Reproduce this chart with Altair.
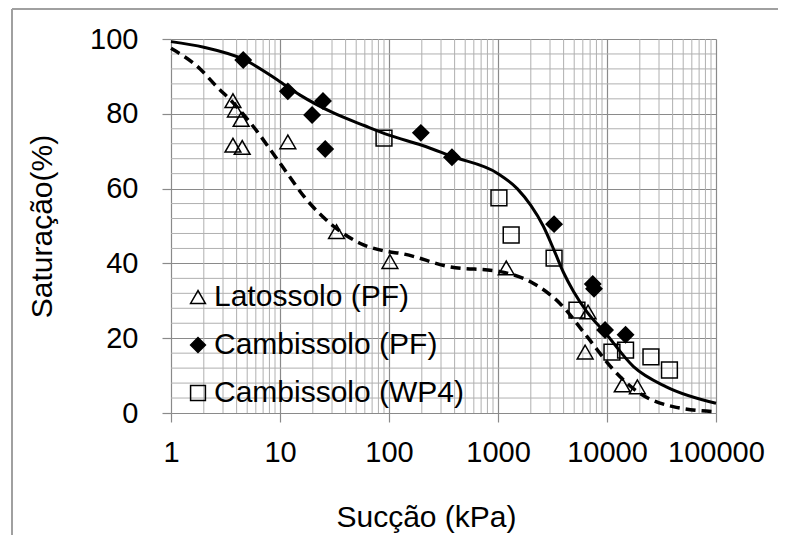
import altair as alt
import pandas as pd

# ---- data ----
lato_x = [3.7, 3.9, 4.4, 3.7, 4.5, 11.8, 33, 102, 1190, 6300, 6700, 13800, 19000]
lato_y = [83.5, 81, 78.5, 71.6, 71, 72.5, 48.5, 40.5, 38.8, 16.3, 27, 7.5, 7]

camb_pf_x = [4.6, 11.8, 19.7, 24.8, 26, 196, 378, 3270, 7400, 7600, 9600, 14800]
camb_pf_y = [94.4, 86, 79.7, 83.4, 70.6, 74.9, 68.4, 50.5, 34.5, 33.2, 22.2, 20.9]

camb_wp_x = [90, 1020, 1320, 3270, 5300, 11100, 14800, 25300, 37400]
camb_wp_y = [73.5, 57.5, 47.6, 41.4, 27.5, 16.3, 16.8, 15, 11.5]

solid_x = [1, 2, 4.6, 10, 15.3, 30.6, 60, 100, 200, 378, 1000, 1500, 2000, 2600, 3270,
           4000, 4930, 6570, 9580, 17500, 35000, 100000]
solid_y = [99.3, 97.8, 94.6, 88.6, 85, 80.3, 76.8, 74.3, 71.6, 68.6, 64, 60, 55.5, 50,
           43.5, 37.5, 32.5, 27, 21.5, 12.4, 7, 2.6]

dash_x = [1, 1.85, 2.62, 3.7, 5.69, 10, 17.6, 30.8, 54, 100, 126, 362, 1045, 2100,
          3700, 6570, 11500, 19900, 40300, 100000]
dash_y = [97.5, 92, 87.3, 83, 76.6, 66.8, 57, 50, 45.4, 43.1, 42.7, 39.1, 37.8, 34.7,
          29.3, 20.4, 11.5, 5.3, 1.7, 0.35]

series = ["Latossolo (PF)", "Cambissolo (PF)", "Cambissolo (WP4)"]
x_major = [1, 10, 100, 1000, 10000, 100000]
x_minor = [m * d for d in [1, 10, 100, 1000, 10000] for m in range(2, 10)]
y_major = [0, 20, 40, 60, 80, 100]
y_minor = [v for v in range(0, 101, 4) if v % 20 != 0]

pts = pd.concat([
    pd.DataFrame({"x": lato_x, "y": lato_y, "series": series[0]}),
    pd.DataFrame({"x": camb_pf_x, "y": camb_pf_y, "series": series[1]}),
    pd.DataFrame({"x": camb_wp_x, "y": camb_wp_y, "series": series[2]}),
])
solid_df = pd.DataFrame({"x": solid_x, "y": solid_y})
dash_df = pd.DataFrame({"x": dash_x, "y": dash_y})

FONT = "Liberation Sans"
xscale = alt.Scale(type="log", domain=[1, 100000], nice=False)
yscale = alt.Scale(domain=[0, 100], nice=False, zero=True)

xaxis = alt.Axis(values=x_major, format="d", title="Sucção (kPa)", grid=True,
                 gridColor="#8a8a8a", gridWidth=1.2, tickColor="#8a8a8a", tickSize=9,
                 tickWidth=1.2, domain=False, labelFontSize=29, labelFont=FONT,
                 labelColor="#000", labelBaseline="middle", labelPadding=30,
                 labelFlush=False, labelOverlap=False,
                 titleFont=FONT, titleFontSize=30, titleFontWeight="normal",
                 titleColor="#000", titleX=255, titleY=104, titleAlign="center",
                 titleBaseline="middle")
yaxis = alt.Axis(values=y_major, title="Saturação(%)", grid=True,
                 gridColor="#8a8a8a", gridWidth=1.2, tickColor="#8a8a8a", tickSize=9,
                 tickWidth=1.2, domain=False, labelFontSize=29, labelFont=FONT,
                 labelColor="#000", labelPadding=24, labelFlush=False,
                 titleFont=FONT, titleFontSize=30, titleFontWeight="normal",
                 titleColor="#000", titleX=-129, titleY=187, titleAlign="center",
                 titleBaseline="middle", titleAngle=270)

gx = alt.Chart(pd.DataFrame({"x": x_minor})).mark_rule(color="#b0b0b0", strokeWidth=1).encode(
    x=alt.X("x:Q", scale=xscale, axis=xaxis))
gy = alt.Chart(pd.DataFrame({"y": y_minor})).mark_rule(color="#b0b0b0", strokeWidth=1).encode(
    y=alt.Y("y:Q", scale=yscale, axis=yaxis))

solid = alt.Chart(solid_df).mark_line(color="black", strokeWidth=3, interpolate="monotone").encode(
    x=alt.X("x:Q", scale=xscale, axis=xaxis), y=alt.Y("y:Q", scale=yscale, axis=yaxis))
dashed = alt.Chart(dash_df).mark_line(color="black", strokeWidth=3.5, strokeDash=[10, 6],
                                      interpolate="monotone").encode(
    x=alt.X("x:Q", scale=xscale, axis=xaxis), y=alt.Y("y:Q", scale=yscale, axis=yaxis))

leg = alt.Legend(title=None, orient="none", legendX=12, legendY=243, padding=0,
                 symbolSize=220, symbolStrokeColor="black", symbolStrokeWidth=1.5,
                 labelFontSize=30, labelFont=FONT, labelColor="#000", rowPadding=18,
                 labelOffset=1, symbolOpacity=1, labelLimit=0)

points = alt.Chart(pts).mark_point(size=250, strokeWidth=1.5, opacity=1).encode(
    x=alt.X("x:Q", scale=xscale, axis=xaxis),
    y=alt.Y("y:Q", scale=yscale, axis=yaxis),
    shape=alt.Shape("series:N", scale=alt.Scale(domain=series,
                    range=["triangle-up", "diamond", "square"]), legend=leg),
    fill=alt.Fill("series:N", scale=alt.Scale(domain=series,
                  range=["transparent", "black", "transparent"]), legend=leg),
    stroke=alt.Stroke("series:N", scale=alt.Scale(domain=series,
                      range=["black", "black", "black"]), legend=leg),
)

frame_top = alt.Chart(pd.DataFrame({"k": [0]})).mark_rule(color="#a0a0a0", strokeWidth=2).encode(
    x=alt.value(-159), x2=alt.value(620), y=alt.value(-30))
frame_left = alt.Chart(pd.DataFrame({"k": [0]})).mark_rule(color="#a0a0a0", strokeWidth=2).encode(
    x=alt.value(-159), y=alt.value(-30), y2=alt.value(520))

chart = alt.layer(gx, gy, solid, dashed, points, frame_top, frame_left).properties(
    width=545, height=374,
    autosize=alt.AutoSizeParams(type="none"),
    padding={"left": 163, "top": 31, "right": 62, "bottom": 122},
).configure_view(stroke=None).configure(background="white")

chart.save("out.html", embed_options={"renderer": "svg", "actions": False})
